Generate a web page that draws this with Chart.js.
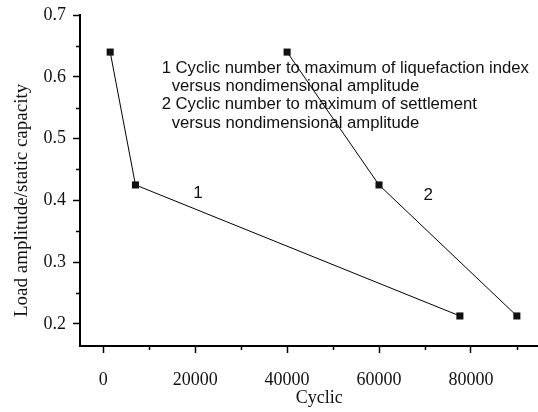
<!DOCTYPE html>
<html>
<head>
<meta charset="utf-8">
<script src="https://cdn.jsdelivr.net/npm/chart.js@4/dist/chart.umd.min.js"></script>
<style>
  html, body { margin: 0; padding: 0; background: #fff; }
  #wrap { width: 538px; height: 412px; position: relative; }
</style>
</head>
<body>
<div id="wrap"><canvas id="c" width="538" height="412"></canvas></div>
<script>
// Curve 1: cyclic number to maximum of liquefaction index
const cycles1 = [1500, 7000, 77600];
const amp1 = [0.64, 0.425, 0.213];
// Curve 2: cyclic number to maximum of settlement
const cycles2 = [40000, 60000, 90000];
const amp2 = [0.64, 0.425, 0.213];

const xMajorTicks = [0, 20000, 40000, 60000, 80000];
const xMinorTicks = [-10000, 10000, 30000, 50000, 70000, 90000];
const yMajorTicks = [0.2, 0.3, 0.4, 0.5, 0.6, 0.7];
const yMinorTicks = [0.15, 0.25, 0.35, 0.45, 0.55, 0.65];

const xTitle = 'Cyclic';
const yTitle = 'Load amplitude/static capacity';
const noteLines = [
  '1 Cyclic number to maximum of liquefaction index',
  'versus nondimensional amplitude',
  '2 Cyclic number to maximum of settlement',
  'versus nondimensional amplitude'
];

const toPoints = (xs, ys) => xs.map((x, i) => ({ x: x, y: ys[i] }));

const serif = '"Liberation Serif", "Times New Roman", serif';
const sans = '"Liberation Sans", Arial, sans-serif';

// Minor ticks, axis titles, curve numbers and the explanatory note
const annotate = {
  id: 'annotate',
  afterDraw(chart) {
    const ctx = chart.ctx;
    const xs = chart.scales.x, ys = chart.scales.y;
    const area = chart.chartArea;
    ctx.save();
    ctx.strokeStyle = '#000';
    ctx.lineWidth = 1.5;
    ctx.beginPath();
    xMinorTicks.forEach(v => {
      if (v < xs.min || v > xs.max) return;
      const px = Math.round(xs.getPixelForValue(v)) + 0.5;
      ctx.moveTo(px, area.bottom);
      ctx.lineTo(px, area.bottom + 4);
    });
    yMinorTicks.forEach(v => {
      if (v < ys.min || v > ys.max) return;
      const py = Math.round(ys.getPixelForValue(v)) + 0.5;
      ctx.moveTo(area.left, py);
      ctx.lineTo(area.left - 4, py);
    });
    ctx.stroke();

    ctx.fillStyle = '#111';
    ctx.textAlign = 'center';
    ctx.textBaseline = 'middle';

    // x-axis title
    ctx.font = '18px ' + serif;
    ctx.fillText(xTitle, xs.getPixelForValue(47000), area.bottom + 52);

    // rotated y-axis title
    ctx.save();
    ctx.translate(22, ys.getPixelForValue(0.4));
    ctx.rotate(-Math.PI / 2);
    ctx.font = '19px ' + serif;
    ctx.fillText(yTitle, 0, 0);
    ctx.restore();

    ctx.font = '17px ' + sans;
    ctx.fillText('1', xs.getPixelForValue(20600), ys.getPixelForValue(0.412));
    ctx.fillText('2', xs.getPixelForValue(70700), ys.getPixelForValue(0.409));

    ctx.font = '16.7px ' + sans;
    ctx.textAlign = 'left';
    const x0 = xs.getPixelForValue(12700);
    const y0 = ys.getPixelForValue(0.614);
    noteLines.forEach((t, i) => {
      const indent = (i % 2 === 1) ? 10 : 0;
      ctx.fillText(t, x0 + indent, y0 + i * 18.3);
    });
    ctx.restore();
  }
};

new Chart(document.getElementById('c'), {
  type: 'scatter',
  data: {
    datasets: [
      {
        label: '1',
        data: toPoints(cycles1, amp1),
        showLine: true,
        borderColor: '#000',
        borderWidth: 1,
        backgroundColor: '#111',
        pointStyle: 'rect',
        pointRadius: 5,
        pointBorderWidth: 0
      },
      {
        label: '2',
        data: toPoints(cycles2, amp2),
        showLine: true,
        borderColor: '#000',
        borderWidth: 1,
        backgroundColor: '#111',
        pointStyle: 'rect',
        pointRadius: 5,
        pointBorderWidth: 0
      }
    ]
  },
  options: {
    responsive: false,
    animation: false,
    layout: { autoPadding: false, padding: { top: 15, right: 0, left: 0, bottom: 0 } },
    plugins: { legend: { display: false }, tooltip: { enabled: false } },
    scales: {
      x: {
        type: 'linear',
        min: -5070,
        max: 94600,
        afterBuildTicks: s => { s.ticks = xMajorTicks.map(v => ({ value: v })); },
        afterFit: s => { s.height = 66; s.paddingLeft = 0; s.paddingRight = 0; },
        border: { display: true, color: '#000', width: 2 },
        grid: { display: true, drawOnChartArea: false, drawTicks: true, tickLength: 7, tickWidth: 1.5, tickColor: '#000' },
        ticks: { color: '#111', font: { family: serif, size: 18 }, padding: 16, maxRotation: 0, callback: v => String(v) },
        title: { display: false }
      },
      y: {
        type: 'linear',
        min: 0.1644,
        max: 0.7,
        afterBuildTicks: s => { s.ticks = yMajorTicks.map(v => ({ value: v })); },
        afterFit: s => { s.width = 80; s.paddingTop = 0; s.paddingBottom = 0; },
        border: { display: true, color: '#000', width: 2 },
        grid: { display: true, drawOnChartArea: false, drawTicks: true, tickLength: 7, tickWidth: 1.5, tickColor: '#000' },
        ticks: { color: '#111', font: { family: serif, size: 18 }, padding: 7, callback: v => v.toFixed(1) },
        title: { display: false }
      }
    }
  },
  plugins: [annotate]
});
</script>
</body>
</html>
